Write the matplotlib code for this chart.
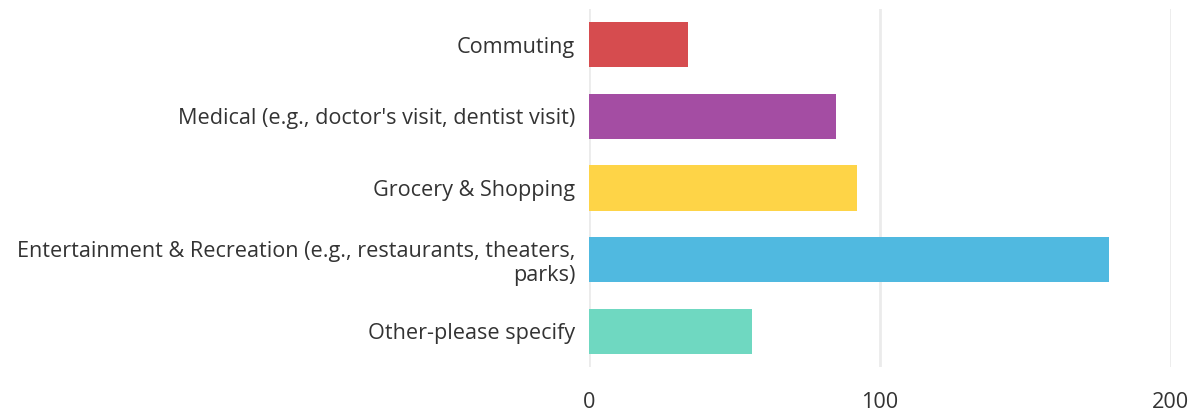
import matplotlib.pyplot as plt
import numpy as np

categories = [
    "Commuting",
    "Medical (e.g., doctor's visit, dentist visit)",
    "Grocery & Shopping",
    "Entertainment & Recreation (e.g., restaurants, theaters,\nparks)",
    "Other-please specify",
]
values = [34, 85, 92, 179, 56]
colors = ["#D64C4F", "#A44DA3", "#FED447", "#50B9E0", "#6FD8C1"]
xticks = [0, 100, 200]

plt.rcParams['font.family'] = ['Open Sans', 'DejaVu Sans']

fig = plt.figure(figsize=(11.96, 4.12), dpi=100)
ax = fig.add_axes([0.4925, 0.1092, 0.4862, 0.869])

y = np.arange(len(categories))
ax.barh(y, values, height=0.63, color=colors, zorder=3)

ax.set_ylim(len(categories) - 0.5, -0.5)
ax.set_xlim(0, 200)
ax.set_xticks(xticks)
ax.set_yticks(y)
ax.set_yticklabels(categories, fontsize=15.6, color="#333333", ha="right",
                   linespacing=1.2)
ax.tick_params(axis='y', length=0, pad=10)
ax.tick_params(axis='x', length=0, pad=18, labelsize=15.6, labelcolor="#333333")

ax.grid(axis='x', color="#EBEBEB", linewidth=2.0, zorder=0)
for s in ax.spines.values():
    s.set_visible(False)

fig.savefig("out.png", dpi=100)
